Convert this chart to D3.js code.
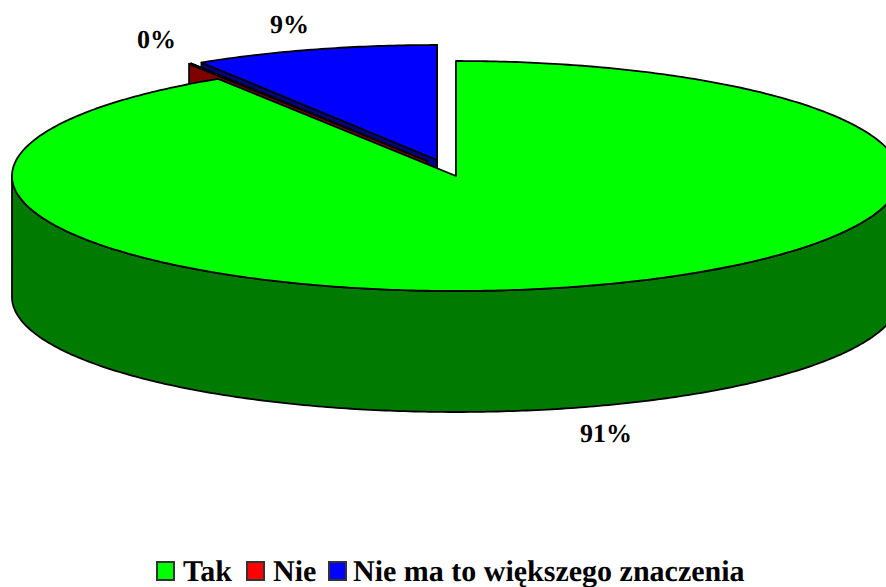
<!DOCTYPE html>
<html><head><meta charset="utf-8">
<script src="https://cdnjs.cloudflare.com/ajax/libs/d3/7.8.5/d3.min.js"></script>
<style>html,body{margin:0;padding:0;background:#fff}svg{display:block}text{font-family:"Liberation Serif","Times New Roman",serif;font-weight:bold;fill:#000;text-rendering:geometricPrecision}</style>
</head><body><svg id="c" width="886" height="587"></svg>
<script>
const categories = ["Tak","Nie","Nie ma to większego znaczenia"];
const values = [91,0.1,8.9];
const percentLabels = ["91%","0%","9%"];
const topColors = ["#00ff00","#800000","#0000ff"];
const sideColors = ["#007a00","#800000","#000080"];
const legendColors = ["#00ff00","#ff0000","#0000ff"];

const W=886,H=587,rx=444,ry=115,depth=121;
const centers=[[456,176],[427,161],[437,160]];
const labelPos=[[580,442],[137,48],[270,33]];
const legendSwatch=[157,247,329], legendText=[183,273,353];

const svg=d3.select("#c");
svg.append("defs").append("clipPath").attr("id","cl").append("rect").attr("width",W).attr("height",H);
const g=svg.append("g").attr("clip-path","url(#cl)");
const arcs=d3.pie().sort(null).value(d=>d)(values);
const line=d3.line();
const sx=d3.scaleLinear().domain([-1,1]).range([-rx,rx]);
const sy=d3.scaleLinear().domain([-1,1]).range([-ry,ry]);
const pt=(i,a,dz=0)=>[centers[i][0]+sx(Math.sin(a)),centers[i][1]-sy(Math.cos(a))+dz];
const rim=(i,a0,a1,dz=0)=>{const n=Math.max(2,Math.ceil((a1-a0)*90));return d3.range(n+1).map(k=>pt(i,a0+(a1-a0)*k/n,dz));};
const stroke=(s,c)=>s.attr("fill",c).attr("stroke","#000").attr("stroke-width",1.8).attr("stroke-linejoin","round");

function cutFace(i,a){const c=centers[i],p=pt(i,a);
  stroke(g.append("path").attr("d",line([c,p,[p[0],p[1]+depth],[c[0],c[1]+depth]])+"Z"),sideColors[i]);}
function topFace(i){const a=arcs[i];
  stroke(g.append("path").attr("d",line([centers[i],...rim(i,a.startAngle,a.endAngle)])+"Z"),topColors[i]);}

// blue, then red, then green on top: painter's order
[2,1].forEach(i=>{cutFace(i,arcs[i].endAngle);cutFace(i,arcs[i].startAngle);topFace(i);});
// green outer wall
const w0=Math.PI/2,w1=Math.PI*1.5;
stroke(g.append("path").attr("d",line([...rim(0,w0,w1),...rim(0,w0,w1,depth).reverse()])+"Z"),sideColors[0]);
topFace(0);

percentLabels.forEach((t,i)=>svg.append("text").attr("x",labelPos[i][0]).attr("y",labelPos[i][1]).attr("font-size",26).text(t));
categories.forEach((t,i)=>{
  svg.append("rect").attr("x",legendSwatch[i]).attr("y",562).attr("width",17).attr("height",18)
    .attr("fill",legendColors[i]).attr("stroke","#333").attr("stroke-width",2);
  svg.append("text").attr("x",legendText[i]).attr("y",581).attr("font-size",30).text(t);
});
</script></body></html>
